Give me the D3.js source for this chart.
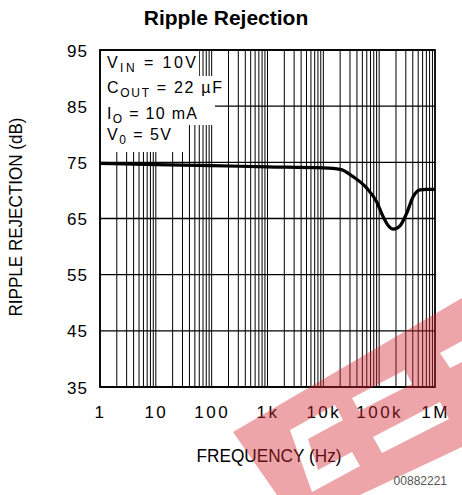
<!DOCTYPE html>
<html><head><meta charset="utf-8">
<script src="https://cdn.jsdelivr.net/npm/d3@7"></script>
<style>body{margin:0;background:#fff}svg{display:block}</style>
</head><body>
<svg id="c" width="462" height="495"></svg>
<script>
// ---- data ----
const freqHz = [1, 10, 100, 1000, 10000, 20000, 34000, 60000, 90000, 118000, 146000, 178000, 236000, 310000, 407000, 537000, 700000, 1000000];
const rippleDb = [74.8, 74.6, 74.4, 74.2, 74.0, 73.75, 72.45, 70.4, 68.0, 65.3, 63.7, 63.1, 63.7, 65.9, 68.9, 70.1, 70.2, 70.2];
const yTicks = [35, 45, 55, 65, 75, 85, 95];
const xTicks = [1, 10, 100, 1000, 10000, 100000, 1000000];
const xTickLabels = ["1", "10", "100", "1k", "10k", "100k", "1M"];
const title = "Ripple Rejection";
const xTitle = "FREQUENCY (Hz)";
const yTitle = "RIPPLE REJECTION (dB)";
const docNum = "00882221";
const notes = [["V", "IN", " = 10V"], ["C", "OUT", " = 22 \u00B5F"], ["I", "O", " = 10 mA"], ["V", "0", " = 5V"]];

const svg = d3.select("#c");
const L = 100, R = 435, T = 50, B = 387;
const x = d3.scaleLog().domain([1, 1e6]).range([L, R]);
const y = d3.scaleLinear().domain([35, 95]).range([B, T]);
const font = "'Liberation Sans', Arial, sans-serif";

// title
svg.append("text").attr("x", 226).attr("y", 25).attr("text-anchor", "middle")
  .attr("font-family", font).attr("font-weight", "bold").attr("font-size", 21).text(title);

const g = svg.append("g");
// vertical grid (minor + major)
const vlines = [];
for (let d = 0; d < 6; d++) for (let m = 1; m <= 9; m++) vlines.push(m * Math.pow(10, d));
g.selectAll("line.v").data(vlines).enter().append("line")
  .attr("x1", d => x(d)).attr("x2", d => x(d)).attr("y1", T).attr("y2", B)
  .attr("stroke", "#000").attr("stroke-width", 1);
g.selectAll("line.h").data(yTicks).enter().append("line")
  .attr("x1", L).attr("x2", R).attr("y1", d => y(d)).attr("y2", d => y(d))
  .attr("stroke", "#000").attr("stroke-width", 1.3);

// annotation masks + text
const noteG = svg.append("g");
const baseY = [68, 93, 119, 140];
const textLens = [89, 115, 90, 64];
const maskRight = [199, 227, 215, 188];
const maskTops = [T + 1, 76, 101, 125];
const maskBots = [76, 101, 125, 152];
notes.forEach((n, i) => {
  noteG.append("rect").attr("x", L + 1).attr("y", maskTops[i])
    .attr("width", maskRight[i] - L - 1).attr("height", maskBots[i] - maskTops[i])
    .attr("fill", "#fff");
});
notes.forEach((n, i) => {
  const t = noteG.append("text").attr("x", 107).attr("y", baseY[i])
    .attr("font-family", font).attr("font-size", 16)
    .attr("textLength", textLens[i]).attr("lengthAdjust", "spacing");
  t.append("tspan").text(n[0]);
  t.append("tspan").attr("font-size", 12).attr("dy", 4).text(n[1]);
  t.append("tspan").attr("dy", -4).text(n[2]);
});

// curve
svg.append("path").datum(freqHz.map((f, i) => [f, rippleDb[i]]))
  .attr("d", d3.line().x(d => x(d[0])).y(d => y(d[1])).curve(d3.curveMonotoneX))
  .attr("fill", "none").attr("stroke", "#000").attr("stroke-width", 3.2);

// frame
svg.append("rect").attr("x", L).attr("y", T).attr("width", R - L).attr("height", B - T)
  .attr("fill", "none").attr("stroke", "#000").attr("stroke-width", 1.8);

// axes labels
const yAxis = d3.axisLeft(y).tickValues(yTicks).tickSize(0).tickPadding(12);
const ya = svg.append("g").attr("transform", `translate(${L},0)`).call(yAxis);
ya.select(".domain").remove();
ya.selectAll("text").attr("font-family", font).attr("font-size", 17).attr("letter-spacing", 1).attr("fill", "#000").attr("dy", "0.36em");

const xAxis = d3.axisBottom(x).tickValues(xTicks).tickSize(0).tickPadding(19)
  .tickFormat((d, i) => xTickLabels[i]);
const xa = svg.append("g").attr("transform", `translate(0,${B})`).call(xAxis);
xa.select(".domain").remove();
xa.selectAll("text").attr("font-family", font).attr("font-size", 17).attr("letter-spacing", 2.5).attr("fill", "#000");

svg.append("text").attr("x", 269).attr("y", 462).attr("text-anchor", "middle")
  .attr("font-family", font).attr("font-size", 18).attr("textLength", 145).attr("lengthAdjust", "spacingAndGlyphs").text(xTitle);
svg.append("text").attr("transform", "translate(22,217) rotate(-90)").attr("text-anchor", "middle")
  .attr("font-family", font).attr("font-size", 18).attr("textLength", 199).attr("lengthAdjust", "spacingAndGlyphs").text(yTitle);

// watermark
const outer = [[233,432],[462,298],[462,447],[360,495],[277,495]];
const holes = [
  [[440,353],[462,341],[462,362],[450,368]],
  [[352,398],[405,370],[412,384],[359,411]],
  [[373,437],[440,402],[449,419],[382,453]],
  [[290,430],[335,405],[343,420],[308,439],[318,470],[352,452],[360,466],[312,492]]
];
const poly = p => "M" + p.map(q => q.join(",")).join("L") + "Z";
svg.append("path").attr("d", poly(outer) + holes.map(poly).join(""))
  .attr("fill-rule", "evenodd").attr("fill", "rgb(212,40,52)").attr("fill-opacity", 0.42);

svg.append("text").attr("x", 447).attr("y", 485).attr("text-anchor", "end")
  .attr("font-family", font).attr("font-size", 12).attr("fill", "#555").text(docNum);
</script>
</body></html>
